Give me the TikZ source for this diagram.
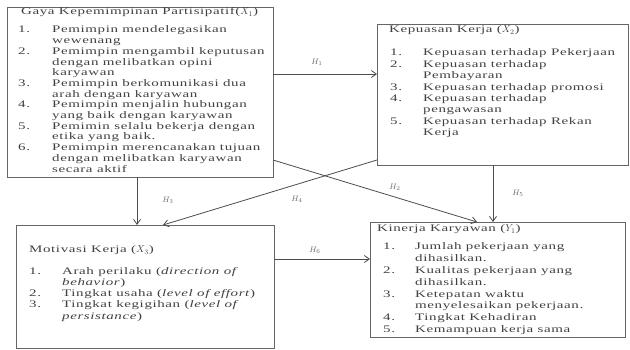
\documentclass[tikz,border=0pt]{standalone}
\usepackage{fontspec}
\setmainfont{Liberation Serif}[FakeStretch=1.5,LetterSpace=6]
\usetikzlibrary{arrows.meta}
\begin{document}
\begin{tikzpicture}[x=1pt,y=-1pt,
  box/.style={draw=black!60,line width=0.9pt,inner sep=0pt,outer sep=0pt,anchor=north west},
  txt/.style={inner sep=0pt,anchor=base west,text=black!75},
  conn/.style={draw=black!70,line width=0.8pt},
  arr/.style={conn,-{Straight Barb[length=5pt,width=7pt]}},
  hl/.style={font=\footnotesize,text=black!60,inner sep=1pt}]
\useasboundingbox (0,0) rectangle (630,350);
% boxes
\node[box,minimum width=266pt,minimum height=170pt] (x1) at (7,7) {};
\node[box,minimum width=251pt,minimum height=141pt] (x2) at (377,24) {};
\node[box,minimum width=258pt,minimum height=123pt] (x3) at (16,225) {};
\node[box,minimum width=255pt,minimum height=115pt] (y1) at (370,222) {};
% X1 text
\node[txt,font=\fontsize{10}{10.7}\selectfont] (x1t) at (21,15) {Gaya Kepemimpinan Partisipatif($X_1$)};
\node[txt,font=\fontsize{10}{10.7}\selectfont] (x1l) at (18,33) {\begin{tabular}[t]{@{}p{34pt}@{}l@{}}
1. & Pemimpin mendelegasikan\\
 & wewenang\\
2. & Pemimpin mengambil keputusan\\
 & dengan melibatkan opini\\
 & karyawan\\
3. & Pemimpin berkomunikasi dua\\
 & arah dengan karyawan\\
4. & Pemimpin menjalin hubungan\\
 & yang baik dengan karyawan\\
5. & Pemimin selalu bekerja dengan\\
 & etika yang baik.\\
6. & Pemimpin merencanakan tujuan\\
 & dengan melibatkan karyawan\\
 & secara aktif
\end{tabular}};
% X2 text
\node[txt,font=\fontsize{10}{11.4}\selectfont] (x2t) at (389,33) {Kepuasan Kerja ($X_2$)};
\node[txt,font=\fontsize{10}{11.4}\selectfont] (x2l) at (390,56) {\begin{tabular}[t]{@{}p{33pt}@{}l@{}}
1. & Kepuasan terhadap Pekerjaan\\
2. & Kepuasan terhadap\\
 & Pembayaran\\
3. & Kepuasan terhadap promosi\\
4. & Kepuasan terhadap\\
 & pengawasan\\
5. & Kepuasan terhadap Rekan\\
 & Kerja
\end{tabular}};
% X3 text
\node[txt,font=\fontsize{10}{11.3}\selectfont] (x3t) at (29,253) {Motivasi Kerja ($X_3$)};
\node[txt,font=\fontsize{10}{11.3}\selectfont] (x3l) at (29,274) {\begin{tabular}[t]{@{}p{33pt}@{}l@{}}
1. & Arah perilaku (\emph{direction of}\\
 & \emph{behavior})\\
2. & Tingkat usaha (\emph{level of effort})\\
3. & Tingkat kegigihan (\emph{level of}\\
 & \emph{persistance})
\end{tabular}};
% Y1 text
\node[txt,font=\fontsize{10}{11.8}\selectfont] (y1t) at (377,232) {Kinerja Karyawan ($Y_1$)};
\node[txt,font=\fontsize{10}{11.8}\selectfont] (y1l) at (383,250) {\begin{tabular}[t]{@{}p{32pt}@{}l@{}}
1. & Jumlah pekerjaan yang\\
 & dihasilkan.\\
2. & Kualitas pekerjaan yang\\
 & dihasilkan.\\
3. & Ketepatan waktu\\
 & menyelesaikan pekerjaan.\\
4. & Tingkat Kehadiran\\
5. & Kemampuan kerja sama
\end{tabular}};
% connectors
\draw[arr] (x1.north east |- 0,74) -- (x2.north west |- 0,74);
\draw[arr] (x1.north east |- 0,160) -- (y1.north west -| 477,0);
\draw[arr] (x2.north west |- 0,160) -- (x3.north west -| 163,0);
\draw[arr] (x1.south west -| 137,0) -- (x3.north west -| 137,0);
\draw[arr] (x2.south west -| 493,0) -- (y1.north west -| 493,0);
\draw[arr] (x3.north east |- 0,259) -- (y1.north west |- 0,259);
% labels
\node[hl] (h1) at (317,62) {$H_1$};
\node[hl] (h2) at (395,187) {$H_2$};
\node[hl] (h3) at (168,200) {$H_3$};
\node[hl] (h4) at (297,199) {$H_4$};
\node[hl] (h5) at (518,193) {$H_5$};
\node[hl] (h6) at (315,250) {$H_6$};
\end{tikzpicture}
\end{document}
